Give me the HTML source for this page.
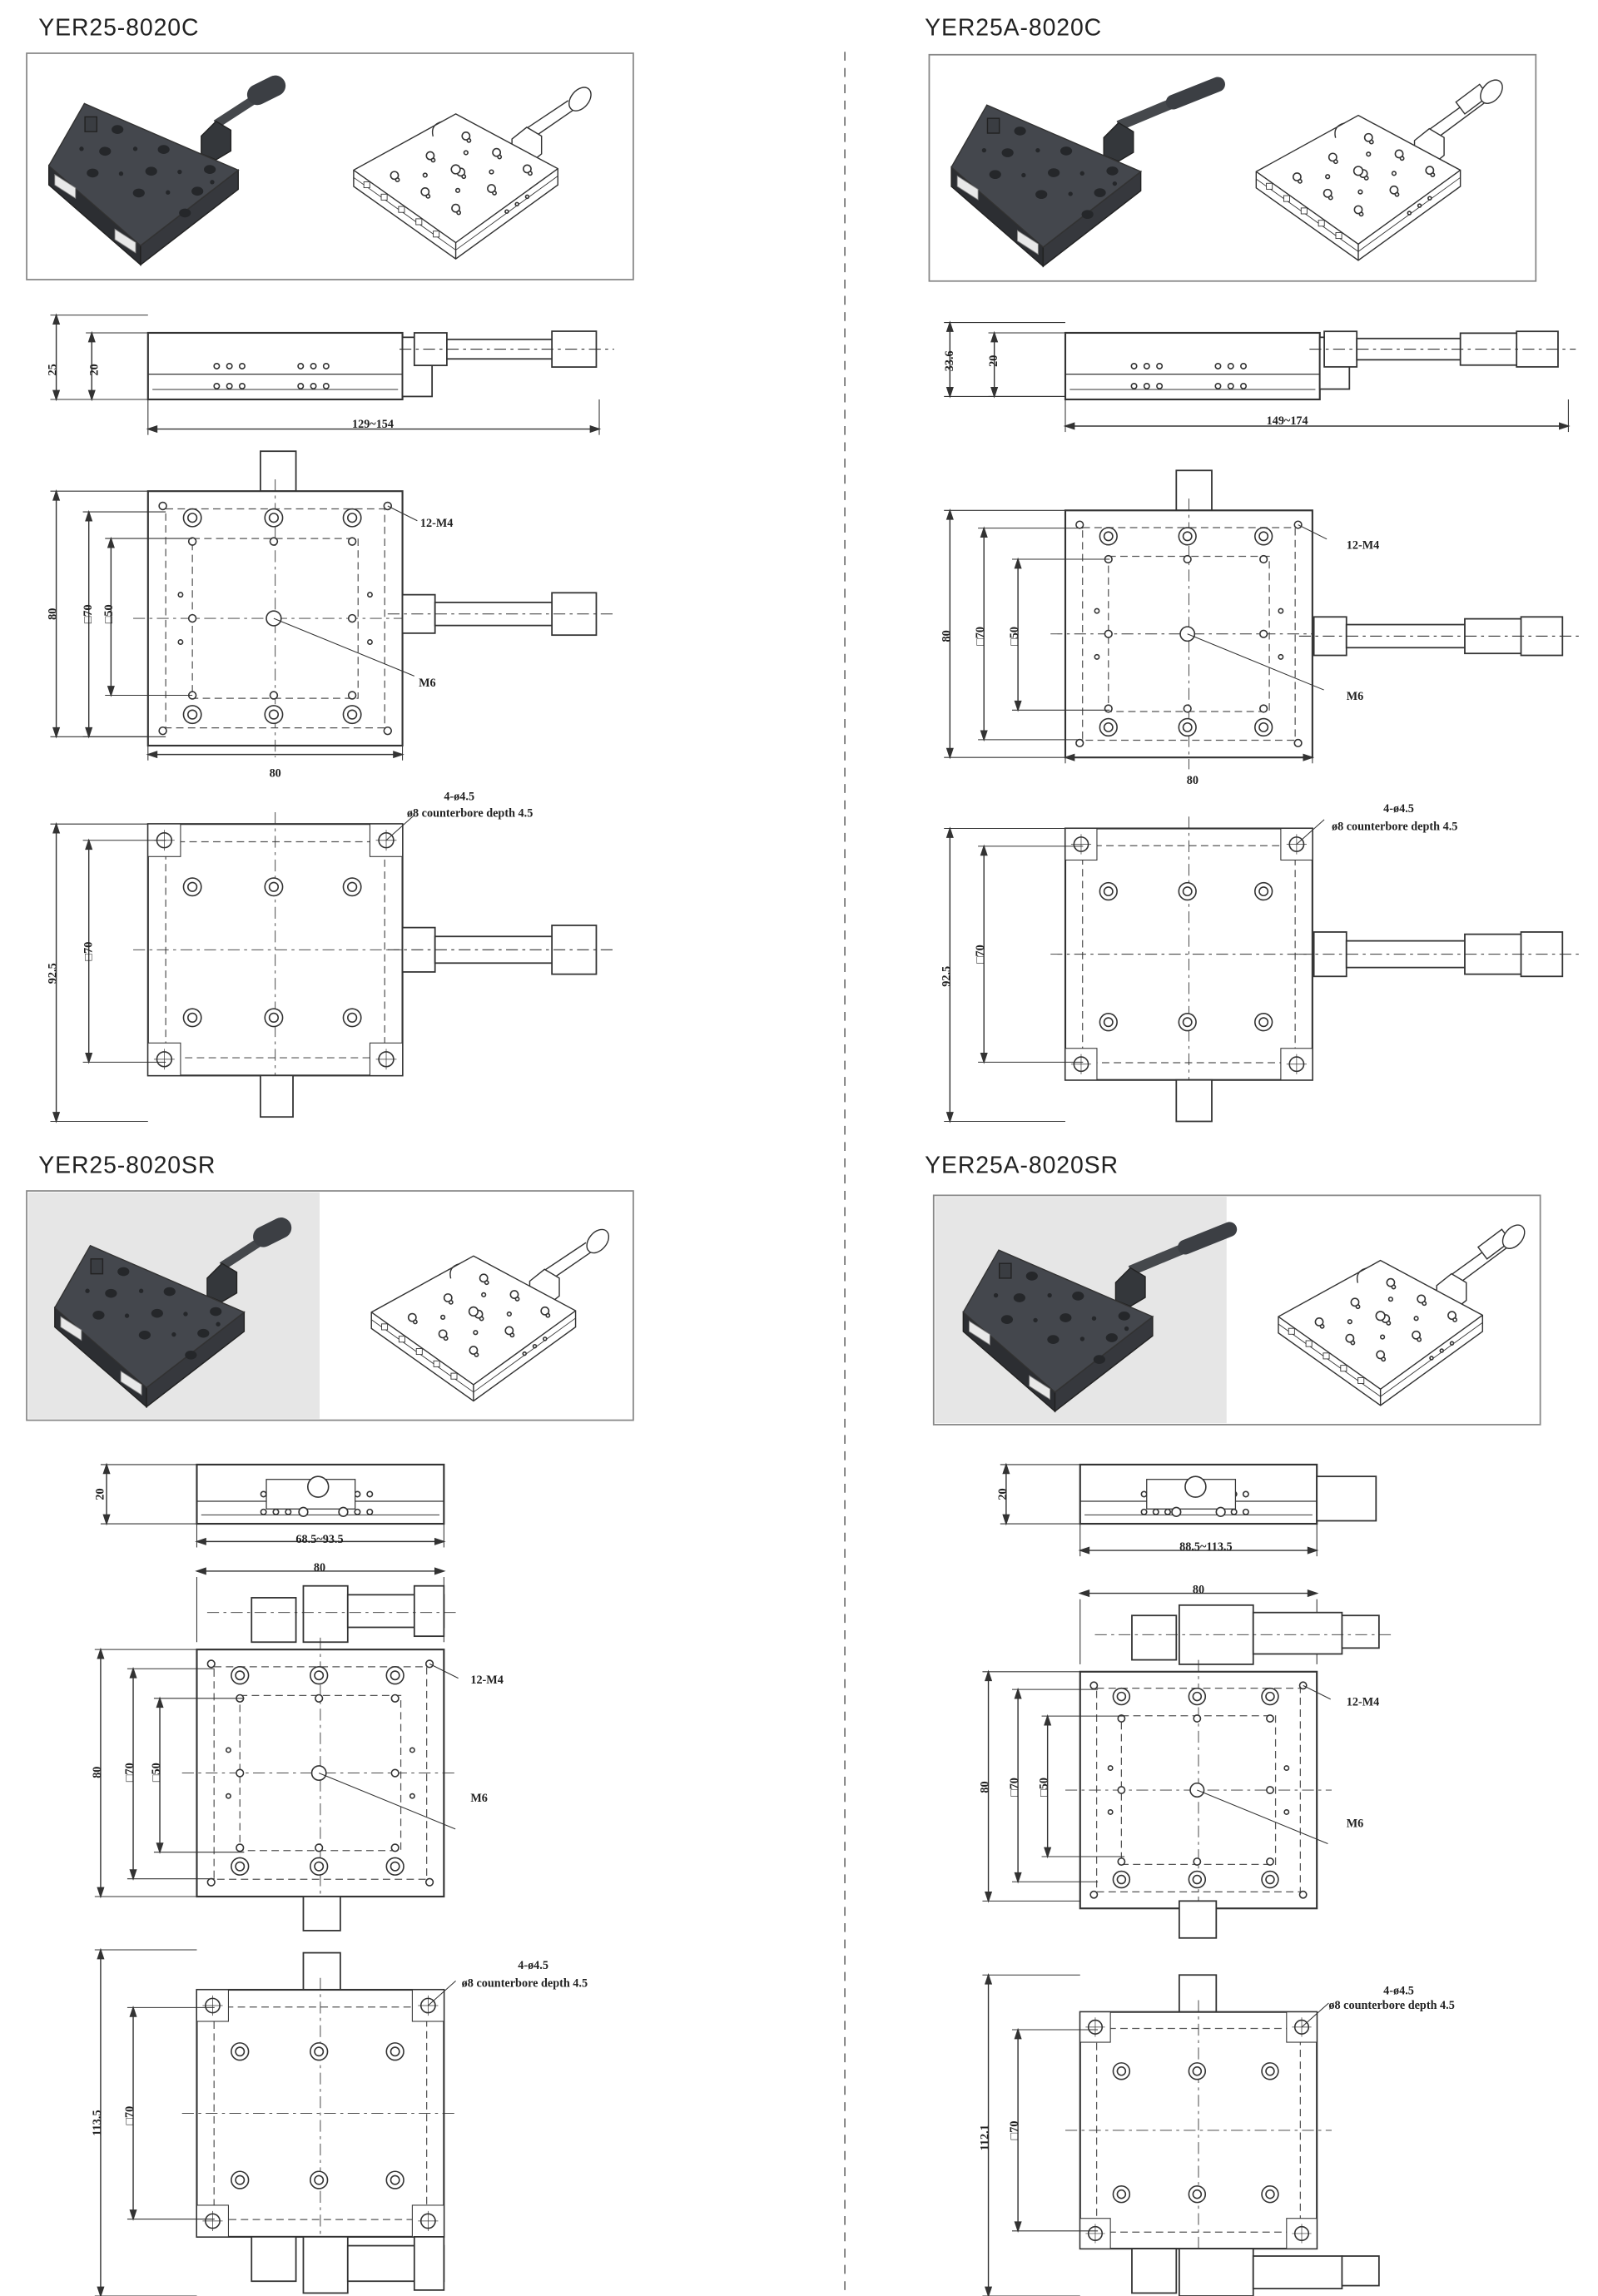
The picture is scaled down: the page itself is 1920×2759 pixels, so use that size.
<!DOCTYPE html>
<html><head><meta charset="utf-8"><style>
html,body{margin:0;padding:0;background:#fff}
svg{display:block}
text{font-family:"Liberation Serif",serif}
.t{font-family:"Liberation Sans",sans-serif;font-size:16px;fill:#222;letter-spacing:0.5px}
</style></head><body>
<svg id="s" width="1920" height="2759" viewBox="0 0 1080 1552" xmlns="http://www.w3.org/2000/svg">
<rect width="1080" height="1552" fill="#fff"/>
<line x1="571" y1="35" x2="571" y2="1552" stroke="#777" stroke-dasharray="6,5" stroke-width="1"/>
<text class="t" x="26" y="24">YER25-8020C</text>
<text class="t" x="625" y="24">YER25A-8020C</text>
<text class="t" x="26" y="793">YER25-8020SR</text>
<text class="t" x="625" y="793">YER25A-8020SR</text>
<rect x="18" y="36" width="410" height="153" fill="#fff" stroke="#888"/>
<rect x="628" y="37" width="410" height="153" fill="#fff" stroke="#888"/>
<rect x="18" y="805" width="410" height="155" fill="#fff" stroke="#888"/>
<rect x="19" y="806" width="197" height="153" fill="#e6e6e6"/>
<rect x="631" y="808" width="410" height="155" fill="#fff" stroke="#888"/>
<rect x="632" y="809" width="197" height="153" fill="#e6e6e6"/>
<g id="g"></g>
<g font-size="8" fill="#222" font-weight="bold">
<text x="38" y="250" transform="rotate(-90 38 250)" text-anchor="middle">25</text>
<text x="66" y="250" transform="rotate(-90 66 250)" text-anchor="middle">20</text>
<text x="252" y="289" text-anchor="middle">129~154</text>
<text x="284" y="356">12-M4</text>
<text x="283" y="464">M6</text>
<text x="38" y="415" transform="rotate(-90 38 415)" text-anchor="middle">80</text>
<text x="62" y="415" transform="rotate(-90 62 415)" text-anchor="middle">□70</text>
<text x="76" y="415" transform="rotate(-90 76 415)" text-anchor="middle">□50</text>
<text x="186" y="525" text-anchor="middle">80</text>
<text x="300" y="541">4-ø4.5</text>
<text x="275" y="552">ø8 counterbore depth 4.5</text>
<text x="38" y="658" transform="rotate(-90 38 658)" text-anchor="middle">92.5</text>
<text x="62" y="643" transform="rotate(-90 62 643)" text-anchor="middle">□70</text>

<text x="644" y="244" transform="rotate(-90 644 244)" text-anchor="middle">33.6</text>
<text x="674" y="244" transform="rotate(-90 674 244)" text-anchor="middle">20</text>
<text x="870" y="287" text-anchor="middle">149~174</text>
<text x="910" y="371">12-M4</text>
<text x="910" y="473">M6</text>
<text x="642" y="430" transform="rotate(-90 642 430)" text-anchor="middle">80</text>
<text x="665" y="430" transform="rotate(-90 665 430)" text-anchor="middle">□70</text>
<text x="688" y="430" transform="rotate(-90 688 430)" text-anchor="middle">□50</text>
<text x="806" y="530" text-anchor="middle">80</text>
<text x="935" y="549">4-ø4.5</text>
<text x="900" y="561">ø8 counterbore depth 4.5</text>
<text x="642" y="660" transform="rotate(-90 642 660)" text-anchor="middle">92.5</text>
<text x="665" y="645" transform="rotate(-90 665 645)" text-anchor="middle">□70</text>

<text x="70" y="1010" transform="rotate(-90 70 1010)" text-anchor="middle">20</text>
<text x="216" y="1043" text-anchor="middle">68.5~93.5</text>
<text x="216" y="1062" text-anchor="middle">80</text>
<text x="318" y="1138">12-M4</text>
<text x="318" y="1218">M6</text>
<text x="68" y="1198" transform="rotate(-90 68 1198)" text-anchor="middle">80</text>
<text x="90" y="1198" transform="rotate(-90 90 1198)" text-anchor="middle">□70</text>
<text x="108" y="1198" transform="rotate(-90 108 1198)" text-anchor="middle">□50</text>
<text x="350" y="1331">4-ø4.5</text>
<text x="312" y="1343">ø8 counterbore depth 4.5</text>
<text x="68" y="1435" transform="rotate(-90 68 1435)" text-anchor="middle">113.5</text>
<text x="90" y="1430" transform="rotate(-90 90 1430)" text-anchor="middle">□70</text>

<text x="680" y="1010" transform="rotate(-90 680 1010)" text-anchor="middle">20</text>
<text x="815" y="1048" text-anchor="middle">88.5~113.5</text>
<text x="810" y="1077" text-anchor="middle">80</text>
<text x="910" y="1153">12-M4</text>
<text x="910" y="1235">M6</text>
<text x="668" y="1208" transform="rotate(-90 668 1208)" text-anchor="middle">80</text>
<text x="688" y="1208" transform="rotate(-90 688 1208)" text-anchor="middle">□70</text>
<text x="708" y="1208" transform="rotate(-90 708 1208)" text-anchor="middle">□50</text>
<text x="935" y="1348">4-ø4.5</text>
<text x="898" y="1358">ø8 counterbore depth 4.5</text>
<text x="668" y="1445" transform="rotate(-90 668 1445)" text-anchor="middle">112.1</text>
<text x="688" y="1440" transform="rotate(-90 688 1440)" text-anchor="middle">□70</text>
</g>
</svg>
<script>
var g=document.getElementById('g'),out='';
function R(x,y,w,h,a){out+='<rect x="'+x+'" y="'+y+'" width="'+w+'" height="'+h+'" fill="'+((a&&a.f)||'#fff')+'" stroke="'+((a&&a.s)||'#333')+'" stroke-width="'+((a&&a.w)||1)+'"'+((a&&a.d)?' stroke-dasharray="'+a.d+'"':'')+'/>';}
function L(x1,y1,x2,y2,d,w){out+='<line x1="'+x1+'" y1="'+y1+'" x2="'+x2+'" y2="'+y2+'" stroke="#333" stroke-width="'+(w||0.8)+'"'+(d?' stroke-dasharray="'+d+'"':'')+'/>';}
function C(x,y,r,f){out+='<circle cx="'+x+'" cy="'+y+'" r="'+r+'" fill="'+(f||'#fff')+'" stroke="#333" stroke-width="0.9"/>';}
function P(d,f,s,w){out+='<path d="'+d+'" fill="'+(f||'none')+'" stroke="'+(s||'#333')+'" stroke-width="'+(w||0.8)+'"/>';}
function vdim(x,y1,y2,ext){L(x,y1,x,y2);L(x-4,y1,ext,y1,0,0.6);L(x-4,y2,ext,y2,0,0.6);P('M'+x+' '+y1+'l-2 6h4z','#333');P('M'+x+' '+y2+'l-2 -6h4z','#333');}
function hdim(y,x1,x2,ext){L(x1,y,x2,y);L(x1,ext,x1,y+4,0,0.6);L(x2,ext,x2,y+4,0,0.6);P('M'+x1+' '+y+'l6 -2v4z','#333');P('M'+x2+' '+y+'l-6 -2v4z','#333');}
function knobH(x,y,len,h,mic){
  R(x,y-h/2,22,h);R(x+22,y-h*0.3,len-50,h*0.6);
  if(mic){R(x+22+len-90,y-h*0.45,60,h*0.9);R(x+len-30,y-h*0.5,28,h);}
  else R(x+len-32,y-h*0.55,30,h*1.1);
  L(x-10,y,x+len+10,y,'8,3,2,3',0.6);
}
function topV(x,y,w){
  R(x,y,w,w,{w:1.2});
  var k=w/172;
  R(x+12*k,y+12*k,w-24*k,w-24*k,{d:'5,3',s:'#555',w:0.7});
  R(x+30*k,y+32*k,w-60*k,w-64*k,{d:'5,3',s:'#555',w:0.7});
  L(x-10,y+w/2,x+w+10,y+w/2,'8,3,2,3',0.5);L(x+w/2,y-8,x+w/2,y+w+8,'8,3,2,3',0.5);
  var cols=[30,85,138].map(function(c){return x+c*k});
  cols.forEach(function(cx){C(cx,y+18*k,6*k);C(cx,y+18*k,3*k);C(cx,y+151*k,6*k);C(cx,y+151*k,3*k);C(cx,y+34*k,2.5*k);C(cx,y+138*k,2.5*k);});
  C(cols[0],y+86*k,2.5*k);C(cols[2],y+86*k,2.5*k);C(cols[1],y+86*k,5*k);
  [[10,10],[162,10],[10,162],[162,162]].forEach(function(p){C(x+p[0]*k,y+p[1]*k,2.5*k)});
  C(x+22*k,y+70*k,1.5);C(x+150*k,y+70*k,1.5);C(x+22*k,y+102*k,1.5);C(x+150*k,y+102*k,1.5);
  L(x+162*k,y+10*k,x+182*k,y+20*k,0,0.6);L(cols[1],y+86*k,x+180*k,y+125*k,0,0.6);
}
function botV(x,y,w,h){
  R(x,y,w,h,{w:1.2});
  var k=w/172;
  R(x+12*k,y+12*k,w-24*k,h-24*k,{d:'5,3',s:'#555',w:0.7});
  L(x-10,y+h/2,x+w+10,y+h/2,'8,3,2,3',0.5);L(x+w/2,y-8,x+w/2,y+h+8,'8,3,2,3',0.5);
  [[0,0],[w-22*k,0],[0,h-22*k],[w-22*k,h-22*k]].forEach(function(p){R(x+p[0],y+p[1],22*k,22*k,{w:0.6});C(x+p[0]+11*k,y+p[1]+11*k,5*k);L(x+p[0]+4*k,y+p[1]+11*k,x+p[0]+18*k,y+p[1]+11*k,0,0.4);L(x+p[0]+11*k,y+p[1]+4*k,x+p[0]+11*k,y+p[1]+18*k,0,0.4);});
  [30,85,138].forEach(function(c){C(x+c*k,y+h*0.25,6*k);C(x+c*k,y+h*0.25,3*k);C(x+c*k,y+h*0.77,6*k);C(x+c*k,y+h*0.77,3*k);});
  L(x+w-11*k,y+11*k,x+w+8,y-6,0,0.6);
}
function side(x,y,w,h){
  R(x,y,w,h,{w:1.2});L(x,y+h*0.62,x+w,y+h*0.62,0,0.7);L(x+3,y+h*0.85,x+w-3,y+h*0.85,0,0.6);
  [0.27,0.32,0.37,0.6,0.65,0.7].forEach(function(f){C(x+w*f,y+h*0.5,1.8);C(x+w*f,y+h*0.8,1.8);});
}
function S(p){return p[0]+' '+p[1];}
function add(ox,oy,p){return [ox+p[0],oy+p[1]];}
function uv(A,B,D,u,v){return [A[0]+u*(B[0]-A[0])+v*(D[0]-A[0]),A[1]+u*(B[1]-A[1])+v*(D[1]-A[1])];}
function darkStage(ox,oy,mic){
  var A=add(ox,oy,[39,34]),B=add(ox,oy,[143,79]),Cc=add(ox,oy,[77,130]),D=add(ox,oy,[15,76]),dp=13;
  var br=add(ox,oy,[128,48]),ke=add(ox,oy,mic?[195,20]:[168,22]);
  // micrometer shaft
  out+='<line x1="'+br[0]+'" y1="'+br[1]+'" x2="'+ke[0]+'" y2="'+ke[1]+'" stroke="#45484c" stroke-width="'+(mic?7:6)+'"/>';
  out+='<line x1="'+(ke[0]-(mic?30:12))+'" y1="'+(ke[1]+(mic?12:6))+'" x2="'+ke[0]+'" y2="'+ke[1]+'" stroke="#3c3f44" stroke-width="'+(mic?10:14)+'" stroke-linecap="round"/>';
  P('M'+(br[0]-10)+' '+(br[1]+8)+' l10 -10 l10 6 v14 l-10 6 l-10 -4z','#34373b','#222');
  // side faces
  P('M'+S(D)+' L'+S(Cc)+' L'+Cc[0]+' '+(Cc[1]+dp)+' L'+D[0]+' '+(D[1]+dp)+'Z','#2c2e32','#222');
  P('M'+S(Cc)+' L'+S(B)+' L'+B[0]+' '+(B[1]+dp)+' L'+Cc[0]+' '+(Cc[1]+dp)+'Z','#36383d','#222');
  P('M'+S(A)+' L'+S(B)+' L'+S(Cc)+' L'+S(D)+'Z','#44474d','#333');
  // small knob on far left edge
  var kn=uv(A,B,D,0.1,0.25);P('M'+(kn[0]-4)+' '+(kn[1]-6)+' h8 v10 h-8z','#3a3d42','#222');
  [[0.25,0.15],[0.55,0.15],[0.85,0.15],[0.25,0.5],[0.55,0.5],[0.85,0.5],[0.25,0.85],[0.55,0.85],[0.85,0.85]].forEach(function(q){var p=uv(A,B,D,q[0],q[1]);out+='<ellipse cx="'+p[0]+'" cy="'+p[1]+'" rx="4" ry="3" fill="#25272a"/>';});
  [[0.4,0.3],[0.7,0.35],[0.4,0.7],[0.7,0.68],[0.12,0.6],[0.9,0.3]].forEach(function(q){var p=uv(A,B,D,q[0],q[1]);out+='<circle cx="'+p[0]+'" cy="'+p[1]+'" r="1.5" fill="#25272a"/>';});
  // white end plates
  var w1=[D[0]+4,D[1]+6],w2=[D[0]+(Cc[0]-D[0])*0.72,D[1]+(Cc[1]-D[1])*0.72+4];
  [w1,w2].forEach(function(w){P('M'+w[0]+' '+w[1]+' l14 9 v7 l-14 -9z','#e8e8e8','#888',0.5);});
}
function lineStage(ox,oy,mic){
  var A=add(ox,oy,[290,41]),B=add(ox,oy,[359,78]),Cc=add(ox,oy,[290,128]),D=add(ox,oy,[221,79]),dp=11;
  var br=add(ox,oy,[338,54]),ke=add(ox,oy,mic?[378,22]:[372,28]);
  P('M'+(br[0]-2)+' '+(br[1]-2)+' L'+(ke[0]-6)+' '+(ke[1]+4));
  P('M'+(br[0]+3)+' '+(br[1]+4)+' L'+(ke[0]-2)+' '+(ke[1]+10));
  P('M'+(br[0]-10)+' '+(br[1]+4)+' l10 -8 l10 6 v12 l-10 8 l-10 -6z','#fff');
  if(mic) P('M'+(ke[0]-22)+' '+(ke[1]+10)+' l16 -12 l6 8 l-16 12z','#fff');
  out+='<ellipse cx="'+(ke[0]+2)+'" cy="'+(ke[1]+3)+'" rx="6" ry="9" transform="rotate(40 '+(ke[0]+2)+' '+(ke[1]+3)+')" fill="#fff" stroke="#333" stroke-width="0.8"/>';
  P('M'+S(A)+' L'+S(B)+' L'+B[0]+' '+(B[1]+dp)+' L'+Cc[0]+' '+(Cc[1]+dp)+' L'+D[0]+' '+(D[1]+dp)+' L'+S(D)+'Z','#fff');
  L(Cc[0],Cc[1],Cc[0],Cc[1]+dp);
  P('M'+S(D)+' L'+S(Cc)+' L'+S(B));
  L(D[0],D[1]+5,Cc[0],Cc[1]+5,0,0.5);L(Cc[0],Cc[1]+5,B[0],B[1]+5,0,0.5);
  var kn=uv(A,B,D,0.1,0.25);P('M'+(kn[0]-5)+' '+(kn[1]+2)+' q-2 -8 6 -10');
  [[0.25,0.15],[0.55,0.15],[0.85,0.15],[0.25,0.5],[0.55,0.5],[0.85,0.5],[0.25,0.85],[0.55,0.85],[0.85,0.85]].forEach(function(q){var p=uv(A,B,D,q[0],q[1]);C(p[0],p[1],2.6);C(p[0]+2,p[1]+3,1.2);});
  var m=uv(A,B,D,0.5,0.5);C(m[0],m[1],3);
  [[0.4,0.3],[0.7,0.35],[0.4,0.7],[0.7,0.68]].forEach(function(q){var p=uv(A,B,D,q[0],q[1]);C(p[0],p[1],1.3);});
  for(var i=0;i<5;i++){var t=0.1+i*0.17;R(D[0]+(Cc[0]-D[0])*t,D[1]+(Cc[1]-D[1])*t+3,4,4,{w:0.5});}
  for(var j=0;j<3;j++){var t2=0.5+j*0.1;C(Cc[0]+(B[0]-Cc[0])*t2,Cc[1]+(B[1]-Cc[1])*t2+4,1.1);}
}
darkStage(18,36,false);lineStage(18,36,false);
darkStage(628,37,true);lineStage(628,37,true);
darkStage(22,808,false);lineStage(30,808,false);
darkStage(636,811,true);lineStage(643,811,true);

// Section 1 left
side(100,225,172,45);R(272,228,20,40);knobH(280,236,125,22,false);
vdim(38,213,270,100);vdim(62,225,270,100);hdim(290,100,405,270);
R(176,305,24,27);topV(100,332,172);knobH(272,415,133,26,false);
vdim(38,332,498,100);vdim(60,346,498,112);vdim(75,364,470,130);hdim(510,100,272,498);
botV(100,557,172,170);R(176,727,22,28);knobH(272,642,133,30,false);
vdim(38,557,758,100);vdim(60,568,718,112);
// Section 1 right
side(720,225,172,45);R(892,228,20,35);knobH(895,236,160,24,true);
vdim(642,218,268,720);vdim(672,225,268,720);hdim(288,720,1060,270);
R(795,318,24,27);topV(720,345,167);knobH(888,430,170,26,true);
vdim(642,345,512,720);vdim(665,357,500,732);vdim(688,378,480,750);hdim(512,720,887,512);
botV(720,560,167,170);R(795,730,24,28);knobH(888,645,170,30,true);
vdim(642,560,758,720);vdim(665,572,718,732);
// Section 2 left
side(133,990,167,40);R(180,1000,60,20,{w:0.7});C(215,1005,7);C(205,1022,3);C(232,1022,3);
vdim(72,990,1030,133);hdim(1042,133,300,1030);hdim(1062,133,300,1110);
R(170,1080,30,30);R(205,1072,30,38);R(235,1078,65,22);R(280,1072,20,34);L(140,1090,310,1090,'8,3,2,3',0.5);
topV(133,1115,167);R(205,1282,25,23);
vdim(68,1115,1282,133);vdim(90,1128,1270,145);vdim(108,1148,1252,165);
R(205,1320,25,25);botV(133,1345,167,167);
R(170,1512,30,30);R(205,1512,30,38);R(235,1518,65,24);R(280,1512,20,36);
vdim(68,1318,1552,133);vdim(90,1357,1500,145);
// Section 2 right
side(730,990,160,40);R(775,1000,60,20,{w:0.7});C(808,1005,7);C(795,1022,3);C(825,1022,3);R(890,998,40,30);
vdim(680,990,1030,730);hdim(1048,730,890,1030);hdim(1077,730,890,1125);
R(765,1092,30,30);R(797,1085,50,40);R(847,1090,60,28);R(907,1092,25,22);L(740,1105,940,1105,'8,3,2,3',0.5);
topV(730,1130,160);R(797,1285,25,25);
vdim(668,1130,1285,730);vdim(688,1142,1272,742);vdim(708,1160,1255,760);
R(797,1335,25,25);botV(730,1360,160,160);
R(765,1520,30,30);R(797,1520,50,32);R(847,1525,60,22);R(907,1525,25,20);
vdim(668,1335,1552,730);vdim(688,1372,1508,742);
g.innerHTML=out;
</script>
</body></html>
